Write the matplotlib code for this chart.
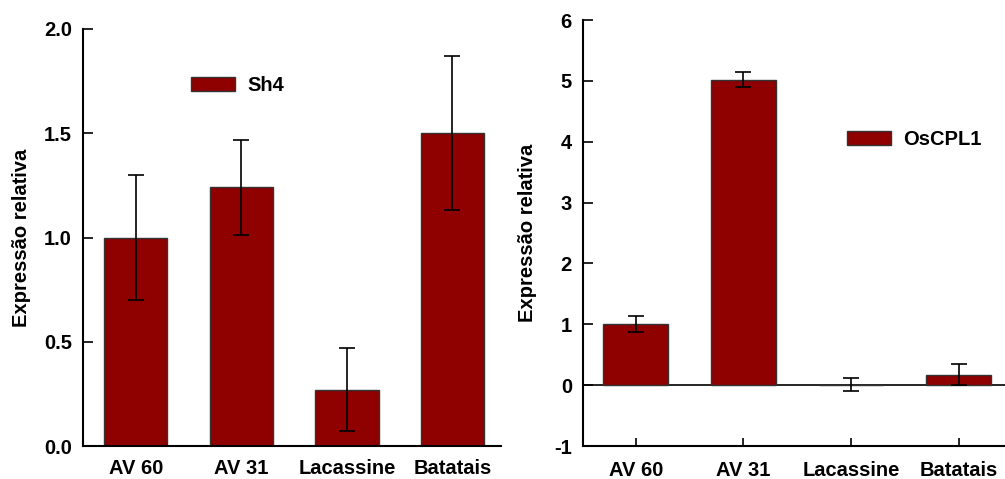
import matplotlib
matplotlib.use("Agg")
import matplotlib.pyplot as plt
import numpy as np

plt.rcParams['font.family'] = ['Liberation Sans', 'DejaVu Sans']
plt.rcParams['font.weight'] = 'bold'
plt.rcParams['axes.unicode_minus'] = False

categories = ["AV 60", "AV 31", "Lacassine", "Batatais"]
sh4_values = [1.00, 1.24, 0.27, 1.50]
sh4_errors = [0.30, 0.23, 0.20, 0.37]
oscpl1_values = [1.00, 5.02, 0.01, 0.17]
oscpl1_errors = [0.13, 0.12, 0.10, 0.17]
left_yticks = [0.0, 0.5, 1.0, 1.5, 2.0]
right_yticks = [-1, 0, 1, 2, 3, 4, 5, 6]

W, H = 1005, 479
FS = 14.5
fig = plt.figure(figsize=(W / 100, H / 100), dpi=100)

bar_color = "#8f0000"
x = np.arange(len(categories))

def px_axes(x0, x1, ytop, ybot):
    return fig.add_axes([x0 / W, 1 - ybot / H, (x1 - x0) / W, (ybot - ytop) / H])

def style(ax):
    for s in ["top", "right"]:
        ax.spines[s].set_visible(False)
    for s in ["left", "bottom"]:
        ax.spines[s].set_linewidth(1.5)
    ax.tick_params(axis="y", direction="in", length=7, width=1.2, pad=8, labelsize=FS)
    for lab in ax.get_yticklabels() + ax.get_xticklabels():
        lab.set_fontweight("bold")

# Left panel
ax1 = px_axes(83, 501, 29, 446)
ax1.bar(x, sh4_values, width=0.6, color=bar_color, edgecolor="#333333", linewidth=1.0,
        label="Sh4", zorder=2)
ax1.errorbar(x, sh4_values, yerr=sh4_errors, fmt="none", ecolor="black", elinewidth=1.2,
             capsize=6, capthick=1.2, zorder=3)
ax1.set_xlim(-0.5, 3.46)
ax1.set_ylim(0, 2.0)
ax1.set_yticks(left_yticks)
ax1.set_yticklabels([f"{v:.1f}" for v in left_yticks])
ax1.set_xticks(x)
ax1.set_xticklabels(categories)
ax1.tick_params(axis="x", length=0, pad=9, labelsize=FS)
ax1.set_ylabel("Expressão relativa", fontsize=FS, fontweight="bold", labelpad=9)
style(ax1)
ax1.legend(loc="upper left", bbox_to_anchor=((183 - 83) / 418, 1 - (68 - 29) / 417),
           frameon=False, handlelength=2.2, handleheight=0.65,
           handletextpad=0.6, borderaxespad=0, prop={"weight": "bold", "size": FS})

# Right panel
ax2 = px_axes(583, 1005, 20, 446)
ax2.bar(x, oscpl1_values, width=0.6, color=bar_color, edgecolor="#333333", linewidth=1.0,
        label="OsCPL1", zorder=2)
ax2.errorbar(x, oscpl1_values, yerr=oscpl1_errors, fmt="none", ecolor="black",
             elinewidth=1.2, capsize=6, capthick=1.2, zorder=3)
ax2.axhline(0, color="black", linewidth=1.2, zorder=1)
ax2.set_xlim(-0.49, 3.43)
ax2.set_ylim(-1, 6)
ax2.set_yticks(right_yticks)
ax2.set_xticks(x)
ax2.set_xticklabels(categories)
ax2.tick_params(axis="x", direction="in", length=6, width=1.2, pad=11, labelsize=FS)
ax2.set_ylabel("Expressão relativa", fontsize=FS, fontweight="bold", labelpad=12)
style(ax2)
ax2.legend(loc="upper left", bbox_to_anchor=((839 - 583) / 422, 1 - (122 - 20) / 426),
           frameon=False, handlelength=2.2, handleheight=0.65,
           handletextpad=0.6, borderaxespad=0, prop={"weight": "bold", "size": FS})

fig.savefig("out.png", dpi=100)
